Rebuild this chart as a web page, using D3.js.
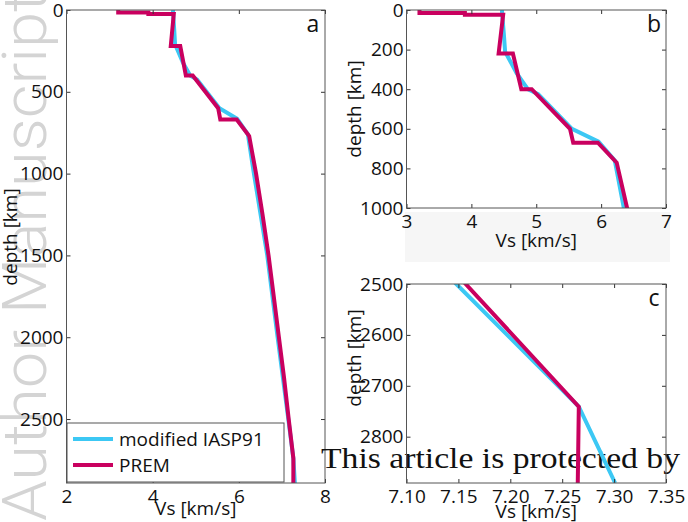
<!DOCTYPE html>
<html>
<head>
<meta charset="utf-8">
<script src="https://cdn.jsdelivr.net/npm/d3@7"></script>
<style>
  body { margin: 0; background: #fff; }
</style>
</head>
<body>
<div id="chart"></div>
<script>
var width = 688,
	height = 522;

// PREM shear velocity profile (depth km / Vs km/s)
var premDepth = [0, 15, 15, 24.4, 24.4, 80, 220, 220, 400, 400, 600, 670, 670, 771, 1000, 1250, 1500, 1750, 2000, 2250, 2500, 2741, 2891];
var premVs = [3.2, 3.2, 3.9, 3.9, 4.49, 4.47, 4.42, 4.64, 4.77, 4.93, 5.52, 5.57, 5.95, 6.24, 6.40, 6.55, 6.69, 6.81, 6.93, 7.05, 7.157, 7.266, 7.265];

// modified IASP91
var iaspDepth = [0, 120, 210, 320, 400, 425, 600, 665, 760, 1000, 1500, 2000, 2500, 2741, 2891];
var iaspVs = [4.47, 4.50, 4.52, 4.70, 4.87, 5.03, 5.55, 5.96, 6.21, 6.35, 6.66, 6.90, 7.148, 7.266, 7.301];

// ticks
var aXticks = [2, 4, 6, 8], aYticks = [0, 500, 1000, 1500, 2000, 2500];
var bXticks = [3, 4, 5, 6, 7], bYticks = [0, 200, 400, 600, 800, 1000];
var cXticks = [7.10, 7.15, 7.20, 7.25, 7.30, 7.35], cYticks = [2500, 2600, 2700, 2800];

var seriesNames = ["modified IASP91", "PREM"];
var colors = ["#3cc8f4", "#c9005f"];

var sans = "'Open Sans', sans-serif";

var svg = d3.select("#chart")
	.append("svg")
	.attr("width", width)
	.attr("height", height)
	.style("font-family", sans);

//watermark
svg.append("text")
	.attr("transform", "translate(46,521) rotate(-90)")
	.style("font-family", "Roboto, sans-serif")
	.style("font-weight", 300)
	.attr("font-size", 62)
	.attr("textLength", 530)
	.attr("lengthAdjust", "spacingAndGlyphs")
	.attr("fill", "#d4d4d4")
	.text("Author Manuscript");

// faint band behind panel b x label
svg.append("rect")
	.attr("x", 405).attr("y", 212)
	.attr("width", 265).attr("height", 50)
	.attr("fill", "#f6f6f6");

var iasp = iaspDepth.map(function(d, i){ return [iaspVs[i], d]; });
var prem = premDepth.map(function(d, i){ return [premVs[i], d]; });

function panel(name, box, xdom, ydom, xt, yt, fmt, label, ylabY) {
	var x = d3.scaleLinear().domain(xdom).range([box.l, box.r]);
	var y = d3.scaleLinear().domain(ydom).range([box.t, box.b]);
	var g = svg.append("g");

	g.append("clipPath").attr("id", "clip" + name)
		.append("rect")
		.attr("x", box.l).attr("y", box.t)
		.attr("width", box.r - box.l).attr("height", box.b - box.t);

	var line = d3.line()
		.x(function(d){ return x(d[0]); })
		.y(function(d){ return y(d[1]); });

	var lines = g.append("g").attr("clip-path", "url(#clip" + name + ")");
	[iasp, prem].forEach(function(s, i){
		lines.append("path")
			.attr("d", line(s))
			.attr("fill", "none")
			.attr("stroke", colors[i])
			.attr("stroke-width", 4)
			.attr("stroke-linejoin", "miter");
	});

	// axes, ticks pointing in
	var bottom = g.append("g").attr("transform", "translate(0," + box.b + ")")
		.call(d3.axisBottom(x).tickValues(xt).tickFormat(fmt).tickSizeInner(-4).tickSizeOuter(0).tickPadding(6));
	var left = g.append("g").attr("transform", "translate(" + box.l + ",0)")
		.call(d3.axisLeft(y).tickValues(yt).tickFormat(d3.format("d")).tickSizeInner(-4).tickSizeOuter(0).tickPadding(3));
	var top = g.append("g").attr("transform", "translate(0," + box.t + ")")
		.call(d3.axisTop(x).tickValues(xt).tickFormat("").tickSizeInner(-4).tickSizeOuter(0));
	var right = g.append("g").attr("transform", "translate(" + box.r + ",0)")
		.call(d3.axisRight(y).tickValues(yt).tickFormat("").tickSizeInner(-4).tickSizeOuter(0));

	[bottom, left, top, right].forEach(function(a){
		a.attr("font-family", null);
		a.select(".domain").remove();
		a.selectAll("line").attr("stroke", "#333");
		a.selectAll("text")
			.attr("font-size", 19)
			.attr("fill", "#111");
	});

	g.append("rect")
		.attr("x", box.l).attr("y", box.t)
		.attr("width", box.r - box.l).attr("height", box.b - box.t)
		.attr("fill", "none")
		.attr("stroke", "#555")
		.attr("stroke-width", 1);

	g.append("text")
		.attr("x", box.r - 12).attr("y", box.t + 22)
		.attr("text-anchor", "middle")
		.attr("font-size", 23)
		.attr("fill", "#111")
		.text(label);

	g.append("text")
		.attr("x", (box.l + box.r) / 2).attr("y", box.xlab)
		.attr("text-anchor", "middle")
		.attr("font-size", 19)
		.attr("fill", "#111")
		.text("Vs [km/s]");

	g.append("text")
		.attr("transform", "translate(" + box.ylx + "," + ylabY + ") rotate(-90)")
		.attr("text-anchor", "middle")
		.attr("font-size", 19)
		.attr("fill", "#111")
		.text("depth [km]");

	return g;
}

panel("a", {l: 66.5, r: 325, t: 10, b: 483, xlab: 515, ylx: 17}, [2, 8], [0, 2891],
	aXticks, aYticks, d3.format("d"), "a", 237);
panel("b", {l: 406.5, r: 666, t: 10, b: 208, xlab: 247, ylx: 361}, [3, 7], [0, 1000],
	bXticks, bYticks, d3.format("d"), "b", 109);

//text overlay from the page
svg.append("text")
	.attr("x", 321).attr("y", 468)
	.style("font-family", "'Liberation Serif', 'DejaVu Serif', serif")
	.attr("font-size", 30)
	.attr("textLength", 359)
	.attr("lengthAdjust", "spacingAndGlyphs")
	.attr("fill", "#111")
	.text("This article is protected by");

panel("c", {l: 406.5, r: 666, t: 284, b: 483, xlab: 518, ylx: 361}, [7.10, 7.35], [2500, 2891],
	cXticks, cYticks, d3.format(".2f"), "c", 358);

// legend
var leg = svg.append("g").attr("transform", "translate(67,423)");
leg.append("rect")
	.attr("width", 217).attr("height", 59)
	.attr("fill", "#fff")
	.attr("stroke", "#555");
seriesNames.forEach(function(n, i){
	leg.append("line")
		.attr("x1", 6).attr("x2", 46)
		.attr("y1", 16 + i * 26).attr("y2", 16 + i * 26)
		.attr("stroke", colors[i])
		.attr("stroke-width", 4);
	leg.append("text")
		.attr("x", 52).attr("y", 23 + i * 26)
		.attr("font-size", 19)
		.attr("fill", "#111")
		.text(n);
});
</script>
</body>
</html>
